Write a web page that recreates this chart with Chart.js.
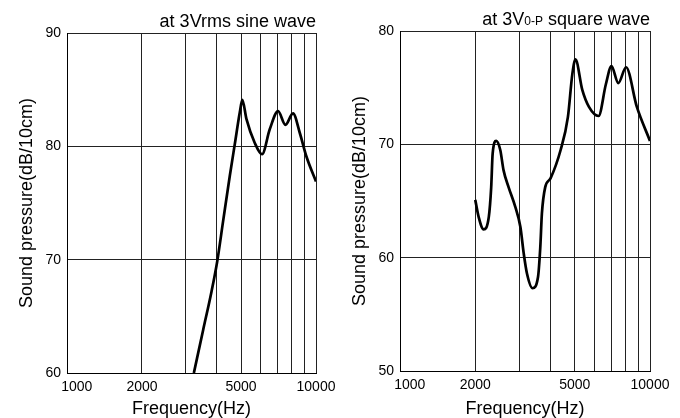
<!DOCTYPE html>
<html>
<head>
<meta charset="utf-8">
<script src="https://cdn.jsdelivr.net/npm/chart.js@4.4.1/dist/chart.umd.min.js"></script>
<style>
  html, body { margin: 0; padding: 0; background: #fff; }
  .wrap { position: absolute; top: 0; width: 340px; height: 418px; }
</style>
</head>
<body>
<div class="wrap" style="left:0"><canvas id="sineChart"></canvas></div>
<div class="wrap" style="left:340px"><canvas id="squareChart"></canvas></div>
<script>
// data
const sineFreq = [3232, 3522, 3806, 4008, 4236, 4507, 4720, 4943, 5060, 5258, 5677, 6073, 6520, 7041, 7537, 8087, 8604, 9152, 10000];
const sineDb = [60, 63.8, 67.2, 69.8, 73.4, 77.4, 80.2, 83, 84.1, 82.4, 80.3, 79.3, 81.5, 83.1, 81.9, 82.9, 81.2, 79.1, 76.9];

const squareFreq = [2000, 2063, 2160, 2266, 2316, 2348, 2426, 2518, 2596, 2720, 2890, 3031, 3124, 3220, 3389, 3565, 3640, 3695, 3808, 4000, 4390, 4694, 4890, 5033, 5360, 5700, 6226, 6660, 7010, 7470, 8020, 8860, 10000];
const squareDb = [65.1, 63.6, 62.5, 63.6, 66.2, 69.2, 70.3, 69.5, 67.7, 66.2, 64.5, 62.7, 60.4, 58.6, 57.3, 58.3, 60.9, 63.9, 66.2, 67.0, 69.5, 72.4, 76.2, 77.5, 74.8, 73.3, 72.5, 75.3, 76.9, 75.4, 76.8, 73.3, 70.3];

const xGridValues = [1000, 2000, 3000, 4000, 5000, 6000, 7000, 8000, 9000, 10000];
const xTickLabels = { 1000: "     1000", 2000: "2000", 5000: "5000", 10000: "10000" };

const FONT = "'Liberation Sans', Arial, Helvetica, sans-serif";

// titel kanan atas, bisa campur ukuran huruf
const cornerNote = {
  id: "cornerNote",
  afterDraw(chart, args, opts) {
    const ctx = chart.ctx;
    const parts = opts.parts || [];
    ctx.save();
    ctx.fillStyle = "#000";
    ctx.textBaseline = "alphabetic";
    let total = 0;
    parts.forEach((p) => {
      ctx.font = p.size + "px " + FONT;
      p.w = ctx.measureText(p.text).width;
      total += p.w;
    });
    let x = chart.chartArea.right - total;
    parts.forEach((p) => {
      ctx.font = p.size + "px " + FONT;
      ctx.textAlign = "left";
      ctx.fillText(p.text, x, opts.baseline);
      x += p.w;
    });
    ctx.restore();
  },
};

function makeChart(id, freq, db, cfg) {
  const ctx = document.getElementById(id).getContext("2d");
  return new Chart(ctx, {
    type: "line",
    data: {
      datasets: [
        {
          data: freq.map((f, i) => ({ x: f, y: db[i] })),
          borderColor: "#000",
          borderWidth: 2.7,
          pointRadius: 0,
          fill: false,
          cubicInterpolationMode: "monotone",
        },
      ],
    },
    options: {
      responsive: true,
      maintainAspectRatio: false,
      animation: false,
      events: [],
      layout: { padding: { top: cfg.top, right: cfg.right, left: 0, bottom: 0 } },
      plugins: {
        legend: { display: false },
        tooltip: { enabled: false },
        cornerNote: { parts: cfg.note, baseline: cfg.noteBaseline },
      },
      scales: {
        x: {
          type: "logarithmic",
          min: 1000,
          max: 10000,
          afterBuildTicks: (s) => {
            s.ticks = xGridValues.map((v) => ({ value: v }));
          },
          afterFit: (s) => {
            s.height = cfg.xHeight;
            s.paddingLeft = 0;
            s.paddingRight = 0;
          },
          ticks: {
            autoSkip: false,
            maxRotation: 0,
            padding: 6,
            color: "#000",
            font: { family: FONT, size: 14 },
            callback: (v) => xTickLabels[v] || "",
          },
          grid: { color: "#222", lineWidth: 1, drawTicks: false },
          border: { color: "#000", width: 1 },
          title: {
            display: true,
            text: "Frequency(Hz)",
            color: "#000",
            font: { family: FONT, size: 18, lineHeight: 1 },
            padding: { top: 0, bottom: 0 },
          },
        },
        y: {
          min: cfg.yMin,
          max: cfg.yMin + 30,
          afterFit: (s) => {
            s.width = cfg.yWidth;
          },
          ticks: {
            stepSize: 10,
            padding: 6,
            color: "#000",
            font: { family: FONT, size: 14 },
          },
          grid: { color: "#222", lineWidth: 1, drawTicks: false },
          border: { color: "#000", width: 1 },
          title: {
            display: true,
            text: "Sound pressure(dB/10cm)",
            color: "#000",
            font: { family: FONT, size: 18, lineHeight: 1 },
            padding: { top: cfg.yTitlePad, bottom: 0 },
          },
        },
      },
    },
    plugins: [cornerNote],
  });
}

makeChart("sineChart", sineFreq, sineDb, {
  top: 33,
  right: 24,
  yWidth: 67,
  xHeight: 45,
  yMin: 60,
  yTitlePad: 18,
  note: [{ text: "at 3Vrms sine wave", size: 18 }],
  noteBaseline: 27,
});

makeChart("squareChart", squareFreq, squareDb, {
  top: 31,
  right: 30,
  yWidth: 60,
  xHeight: 47,
  yMin: 50,
  yTitlePad: 11,
  note: [
    { text: "at 3V", size: 18 },
    { text: "0-P", size: 12 },
    { text: " square wave", size: 18 },
  ],
  noteBaseline: 25,
});
</script>
</body>
</html>
